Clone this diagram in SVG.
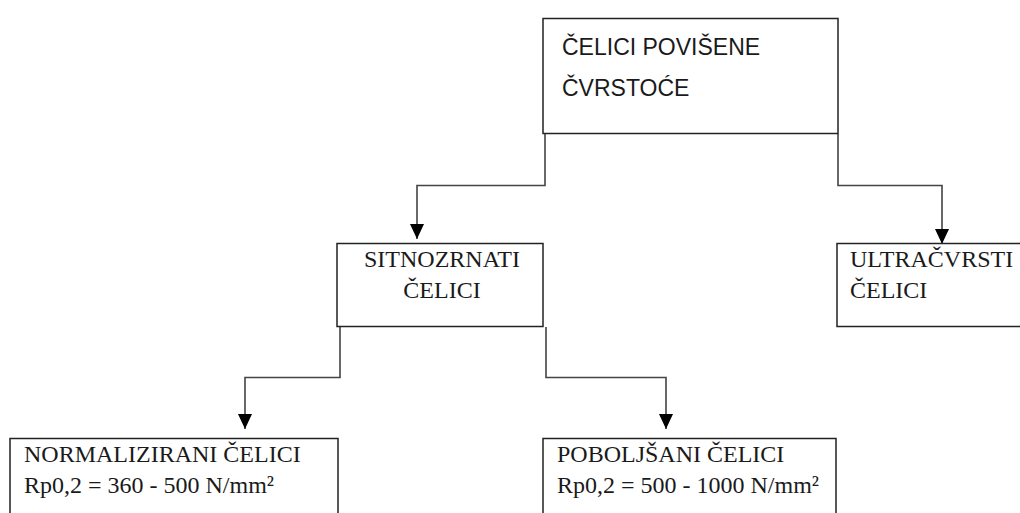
<svg xmlns="http://www.w3.org/2000/svg" width="1020" height="513" viewBox="0 0 1020 513">
<style>
.box{fill:#fff;stroke:#222;stroke-width:1.5}
.conn{fill:none;stroke:#444;stroke-width:1.6;marker-end:url(#arr)}
.sans{font-family:"Liberation Sans","Open Sans",sans-serif;font-size:23px;fill:#1a1a1a}
.serif{font-family:"Liberation Serif","DejaVu Serif",serif;font-size:24px;fill:#1a1a1a}
</style>
<defs>
<marker id="arr" markerWidth="15" markerHeight="14" refX="15" refY="7" orient="auto" markerUnits="userSpaceOnUse" viewBox="0 0 15 14">
<path d="M0,0 L15,7 L0,14 Z" fill="#000"/>
</marker>
</defs>
<rect width="1020" height="513" fill="#fff"/>
<g id="connectors">
<path class="conn" d="M545,134 V185.5 H417 V239"/>
<path class="conn" d="M838,134 V185.5 H942 V244"/>
<path class="conn" d="M340,327 V377.5 H245 V429"/>
<path class="conn" d="M546,327 V377.5 H666 V429"/>
</g>
<g id="node-top">
<rect class="box" x="543" y="18.5" width="295" height="115"/>
<text class="sans" x="562" y="55">ČELICI POVIŠENE</text>
<text class="sans" x="562" y="96">ČVRSTOĆE</text>
</g>
<g id="node-sitnozrnati">
<rect class="box" x="337" y="243.5" width="206" height="83"/>
<text class="serif" x="442" y="267" text-anchor="middle">SITNOZRNATI</text>
<text class="serif" x="442" y="298" text-anchor="middle">ČELICI</text>
</g>
<g id="node-ultra">
<rect class="box" x="837" y="243.5" width="200" height="83"/>
<text class="serif" x="850" y="267">ULTRAČVRSTI</text>
<text class="serif" x="850" y="298">ČELICI</text>
</g>
<g id="node-normalizirani">
<rect class="box" x="10" y="438.5" width="328" height="100"/>
<text class="serif" x="24" y="462">NORMALIZIRANI ČELICI</text>
<text class="serif" x="24" y="493">Rp0,2 = 360 - 500 N/mm²</text>
</g>
<g id="node-poboljsani">
<rect class="box" x="543" y="438.5" width="293" height="100"/>
<text class="serif" x="557" y="462">POBOLJŠANI ČELICI</text>
<text class="serif" x="557" y="493">Rp0,2 = 500 - 1000 N/mm²</text>
</g>
</svg>
